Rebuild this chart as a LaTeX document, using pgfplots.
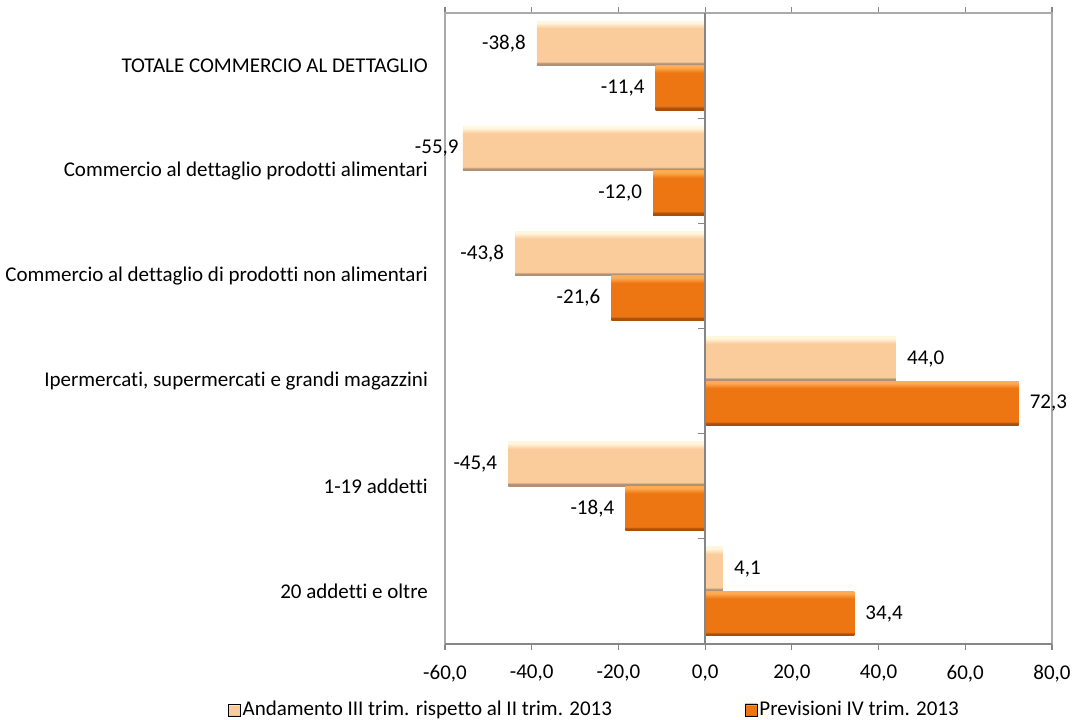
\documentclass[border=0pt]{standalone}
\usepackage{pgfplots}
\pgfplotsset{compat=1.18}
\usepackage{fontspec}
\setmainfont{Carlito}[Ligatures=NoCommon]
\definecolor{lbody}{RGB}{251,204,155}
\definecolor{ltop}{RGB}{255,246,222}
\definecolor{lbot}{RGB}{178,144,118}
\definecolor{dbody}{RGB}{238,118,18}
\definecolor{dtop}{RGB}{253,172,85}
\definecolor{dbot}{RGB}{170,78,12}
\definecolor{framegray}{RGB}{170,170,170}
\definecolor{zerogray}{RGB}{134,134,134}
\pgfdeclareverticalshading{lightbar}{100bp}{color(0bp)=(lbot); color(27.5bp)=(lbot); color(29.5bp)=(lbody); color(67bp)=(lbody); color(73bp)=(ltop); color(100bp)=(ltop)}
\pgfdeclareverticalshading{darkbar}{100bp}{color(0bp)=(dbot); color(27.5bp)=(dbot); color(29.5bp)=(dbody); color(67bp)=(dbody); color(73bp)=(dtop); color(100bp)=(dtop)}
\pgfplotsset{
  lightb/.style={shade, shading=lightbar, draw=none, bar shift=-0.2115, forget plot},
  darkb/.style={shade, shading=darkbar, draw=none, bar shift=0.2115, forget plot},
}
\begin{document}
\fontsize{21bp}{25bp}\selectfont
\begin{tikzpicture}
\path[use as bounding box] (0,0) rectangle (1075bp,720bp);
\begin{axis}[
  at={(445bp,76bp)}, anchor=south west,
  scale only axis, width=607bp, height=631bp,
  xbar, clip=false,
  xmin=-60, xmax=80,
  xtick={-60,-40,-20,0,20,40,60,80},
  xtick align=outside,
  major tick length=6bp,
  x tick style={draw=zerogray, line width=1.2bp},
  xticklabel style={/pgf/number format/fixed, /pgf/number format/fixed zerofill,
     /pgf/number format/precision=1, /pgf/number format/use comma,
     /pgf/number format/assume math mode=true, inner sep=0pt, yshift=-15bp},
  ymin=-0.5, ymax=5.5, y dir=reverse,
  ytick={0,1,2,3,4,5},
  yticklabels={TOTALE COMMERCIO AL DETTAGLIO,
    Commercio al dettaglio prodotti alimentari,
    Commercio al dettaglio di prodotti non alimentari,
    {Ipermercati, supermercati e grandi magazzini},
    1-19 addetti,
    20 addetti e oltre},
  y tick style={draw=none},
  yticklabel style={anchor=east, inner sep=0pt, xshift=-11bp},
  axis line style={draw=framegray, line width=1.2bp},
  bar width=0.423,
  point meta=x,
  nodes near coords={\pgfmathprintnumber[fixed,fixed zerofill,precision=1,use comma,assume math mode=true]{\pgfplotspointmeta}},
  every node near coord/.append style={text=black, inner xsep=11bp, inner ysep=0pt},
  legend columns=2,
  legend style={at={(-0.3575,-0.1045)}, anchor=west, draw=none, fill=none,
    inner sep=0pt, /tikz/every even column/.append style={column sep=131bp},
    nodes={inner xsep=2bp, inner ysep=0bp}},
]
% Andamento III trim. rispetto al II trim. 2013
\addplot[lightb] coordinates {(-38.8,0)};
\addplot[lightb, every node near coord/.append style={inner xsep=4bp}] coordinates {(-55.9,1)};
\addplot[lightb] coordinates {(-43.8,2)};
\addplot[lightb] coordinates {(44.0,3)};
\addplot[lightb] coordinates {(-45.4,4)};
\addplot[lightb] coordinates {(4.1,5)};
% Previsioni IV trim. 2013
\addplot[darkb] coordinates {(-11.4,0)};
\addplot[darkb] coordinates {(-12.0,1)};
\addplot[darkb] coordinates {(-21.6,2)};
\addplot[darkb] coordinates {(72.3,3)};
\addplot[darkb] coordinates {(-18.4,4)};
\addplot[darkb] coordinates {(34.4,5)};
\addlegendimage{legend image code/.code={\path[shade, shading=lightbar] (0bp,-6bp) rectangle (12bp,6bp);}}
\addlegendentry{Andamento III trim. rispetto al II trim. 2013}
\addlegendimage{legend image code/.code={\path[shade, shading=darkbar] (0bp,-6bp) rectangle (12bp,6bp);}}
\addlegendentry{Previsioni IV trim. 2013}
\draw[zerogray, line width=2bp] (axis cs:0,-0.5) -- (axis cs:0,5.5);
\draw[zerogray, line width=1.2bp] (axis cs:-60,5.5) -- (axis cs:80,5.5);
\pgfplotsinvokeforeach{0.5,1.5,2.5,3.5,4.5}{
  \draw[zerogray, line width=1.2bp] (axis cs:0,#1) -- ++(-7bp,0pt);
}
\end{axis}
\end{tikzpicture}
\end{document}
